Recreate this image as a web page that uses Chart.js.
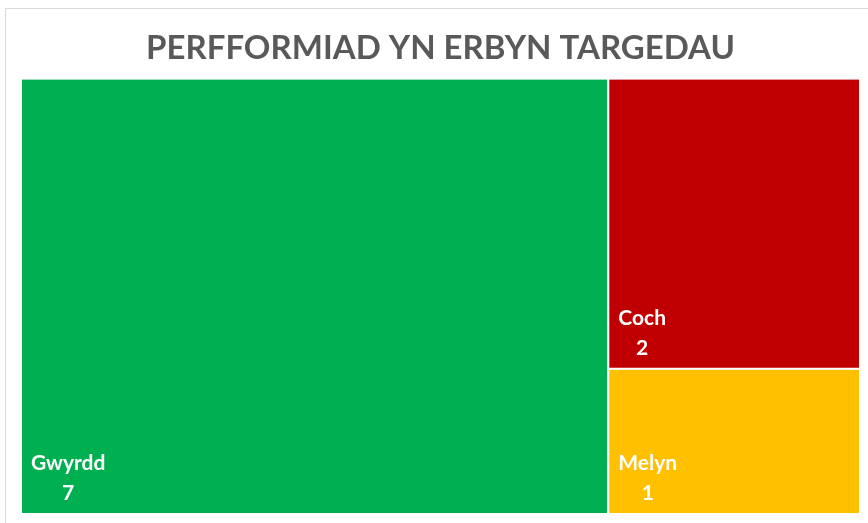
<!DOCTYPE html>
<html>
<head>
<meta charset="utf-8">
<script src="https://cdn.jsdelivr.net/npm/chart.js@4"></script>
<style>
    html, body { margin: 0; padding: 0; background: #fff; }
    #wrap { position: relative; width: 868px; height: 523px; overflow: hidden; }
    #frame {
        position: absolute; left: 5px; top: 8px; width: 900px; height: 600px;
        border-left: 1px solid #d9d9d9; border-top: 1px solid #d9d9d9;
    }
    canvas { position: absolute; left: 0; top: 0; }
</style>
</head>
<body>
<div id="wrap">
    <div id="frame"></div>
    <canvas id="chart" width="868" height="523"></canvas>
</div>
<script>
// Treemap data
const categories = ['Gwyrdd', 'Coch', 'Melyn'];
const values = [7, 2, 1];
const colours = ['#00B050', '#C00000', '#FFC000'];

const total = values.reduce((a, b) => a + b, 0);

// Layout: first (largest) item takes a full-height column,
// the rest are stacked in the remaining column.
function layoutTreemap() {
    const rects = [];
    const firstW = values[0];
    rects.push({ x0: 0, x1: firstW, y0: 0, y1: 1 });
    const rest = values.slice(1);
    const restTotal = rest.reduce((a, b) => a + b, 0);
    let top = 1;
    rest.forEach(v => {
        const h = v / restTotal;
        rects.push({ x0: firstW, x1: total, y0: top - h, y1: top });
        top -= h;
    });
    return rects;
}

const rects = layoutTreemap();

const treemapPlugin = {
    id: 'treemapRects',
    afterDatasetsDraw(chart) {
        const { ctx, scales: { x, y } } = chart;
        ctx.save();
        rects.forEach((r, i) => {
            const left = x.getPixelForValue(r.x0);
            const right = x.getPixelForValue(r.x1);
            const topPx = y.getPixelForValue(r.y1);
            const bottom = y.getPixelForValue(r.y0);
            ctx.fillStyle = colours[i];
            ctx.fillRect(left, topPx, right - left, bottom - topPx);
            ctx.strokeStyle = '#ffffff';
            ctx.lineWidth = 2;
            ctx.strokeRect(left, topPx, right - left, bottom - topPx);

            // labels: name then value, bottom-left
            ctx.fillStyle = '#ffffff';
            ctx.font = 'bold 21px Lato, "Liberation Sans", sans-serif';
            ctx.textBaseline = 'alphabetic';
            ctx.textAlign = 'left';
            const nameX = left + 10;
            const nameW = ctx.measureText(categories[i]).width;
            ctx.fillText(categories[i], nameX, bottom - 44);
            ctx.textAlign = 'center';
            ctx.fillText(String(values[i]), nameX + nameW / 2, bottom - 14);
        });
        ctx.restore();
    }
};

new Chart(document.getElementById('chart'), {
    type: 'scatter',
    data: {
        datasets: [{
            data: rects.map((r, i) => ({ x: (r.x0 + r.x1) / 2, y: (r.y0 + r.y1) / 2, v: values[i] })),
            pointRadius: 0,
            pointHoverRadius: 0
        }]
    },
    options: {
        responsive: false,
        animation: false,
        layout: { padding: { left: 21, right: 8, top: 29, bottom: 9 } },
        scales: {
            x: { type: 'linear', min: 0, max: total, display: false },
            y: { type: 'linear', min: 0, max: 1, display: false }
        },
        plugins: {
            legend: { display: false },
            tooltip: { enabled: false },
            title: {
                display: true,
                text: 'PERFFORMIAD YN ERBYN TARGEDAU',
                color: '#595959',
                font: { family: 'Lato, "Liberation Sans", sans-serif', size: 33, weight: 'bold', lineHeight: 1.2 },
                padding: { top: 0, bottom: 10 }
            }
        }
    },
    plugins: [treemapPlugin]
});
</script>
</body>
</html>
